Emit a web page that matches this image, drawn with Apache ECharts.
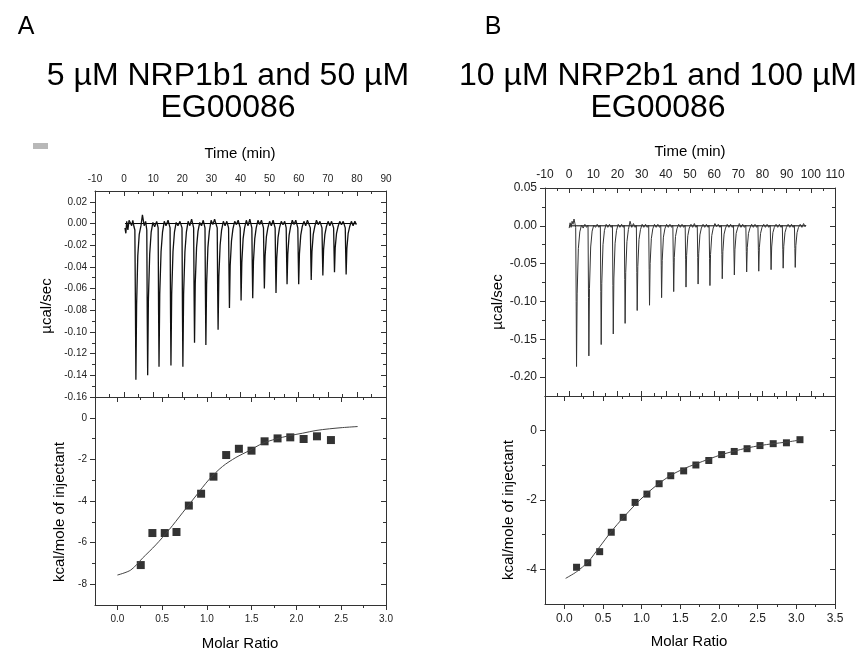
<!DOCTYPE html>
<html>
<head>
<meta charset="utf-8">
<script src="https://cdn.jsdelivr.net/npm/echarts@6/dist/echarts.min.js"></script>
<style>
html,body{margin:0;padding:0;background:#fff;}
#main{width:866px;height:653px;}
</style>
</head>
<body>
<div id="main"></div>
<script>
// ---------- Panel A : raw thermogram (Time min, µcal/sec) ----------
const A_trace = [
[0.3,-0.004],[0.6,-0.009],[0.9,0.002],[1.3,-0.006],[1.7,0.003],[2.1,0.001],[2.6,-0.002],[3.0,0.003],[3.4,-0.003],[3.7,-0.006],
[3.9,-0.080],[4.05,-0.144],[4.3,-0.075],[4.7,-0.030],[5.2,-0.010],[5.8,-0.002],[6.3,0.008],[6.9,-0.002],[7.4,0.002],[7.8,-0.006],
[7.95,-0.085],[8.1,-0.140],[8.35,-0.070],[8.8,-0.028],[9.3,-0.008],[9.9,0.001],[10.5,-0.003],[11.2,0.002],[11.7,-0.004],
[11.85,-0.080],[12.0,-0.132],[12.25,-0.065],[12.7,-0.026],[13.2,-0.008],[13.8,0.002],[14.4,-0.002],[15.1,0.003],[15.8,-0.004],
[15.95,-0.080],[16.1,-0.131],[16.35,-0.065],[16.8,-0.026],[17.3,-0.008],[17.9,0.001],[18.5,-0.002],[19.2,0.002],[19.9,-0.004],
[20.05,-0.080],[20.2,-0.132],[20.45,-0.065],[20.9,-0.026],[21.4,-0.008],[22.0,0.002],[22.6,-0.002],[23.2,0.004],[23.9,-0.004],
[24.05,-0.065],[24.2,-0.110],[24.45,-0.055],[24.9,-0.022],[25.4,-0.007],[26.0,0.001],[26.6,-0.002],[27.2,0.003],[27.8,-0.004],
[27.95,-0.065],[28.1,-0.112],[28.35,-0.056],[28.8,-0.022],[29.3,-0.007],[29.9,0.003],[30.5,-0.001],[31.1,0.004],[32.0,-0.004],
[32.15,-0.060],[32.3,-0.098],[32.55,-0.049],[33.0,-0.020],[33.5,-0.006],[34.1,0.002],[34.7,-0.002],[35.3,0.002],[35.9,-0.004],
[36.05,-0.045],[36.2,-0.078],[36.45,-0.039],[36.9,-0.016],[37.4,-0.005],[38.0,0.002],[38.6,-0.001],[39.2,0.003],[39.9,-0.004],
[40.05,-0.040],[40.2,-0.071],[40.45,-0.036],[40.9,-0.014],[41.4,-0.004],[42.0,0.003],[42.6,-0.002],[43.2,0.004],[43.9,-0.004],
[44.05,-0.040],[44.2,-0.069],[44.45,-0.035],[44.9,-0.014],[45.4,-0.004],[46.0,0.003],[46.6,-0.001],[47.2,0.003],[47.9,-0.004],
[48.05,-0.035],[48.2,-0.060],[48.45,-0.030],[48.9,-0.012],[49.4,-0.004],[50.0,0.002],[50.6,-0.002],[51.2,0.003],[51.9,-0.004],
[52.05,-0.037],[52.2,-0.064],[52.45,-0.032],[52.9,-0.013],[53.4,-0.004],[54.0,0.002],[54.6,-0.001],[55.2,0.002],[55.7,-0.004],
[55.85,-0.032],[56.0,-0.056],[56.25,-0.028],[56.7,-0.011],[57.2,-0.003],[57.8,0.003],[58.4,-0.001],[59.0,0.003],[59.7,-0.004],
[59.85,-0.032],[60.0,-0.056],[60.25,-0.028],[60.7,-0.011],[61.2,-0.003],[61.8,0.002],[62.4,-0.002],[63.0,0.003],[64.0,-0.004],
[64.15,-0.030],[64.3,-0.052],[64.55,-0.026],[65.0,-0.010],[65.5,-0.003],[66.1,0.003],[66.7,-0.001],[67.3,0.002],[68.0,-0.004],
[68.15,-0.028],[68.3,-0.048],[68.55,-0.024],[69.0,-0.010],[69.5,-0.003],[70.1,0.002],[70.7,-0.002],[71.3,0.002],[72.0,-0.004],
[72.15,-0.026],[72.3,-0.045],[72.55,-0.022],[73.0,-0.009],[73.5,-0.003],[74.1,0.002],[74.7,-0.001],[75.3,0.002],[76.0,-0.004],
[76.15,-0.027],[76.3,-0.047],[76.55,-0.023],[77.0,-0.009],[77.5,-0.003],[78.1,0.002],[78.7,-0.002],[79.3,0.002],[79.8,-0.001]
];
const A_baseline = [[0.3,0],[79.8,0]];

// ---------- Panel A : integrated heats ----------
const A_ratio = [0.261,0.391,0.529,0.660,0.798,0.935,1.073,1.215,1.357,1.498,1.644,1.789,1.931,2.080,2.229,2.385];
const A_heat  = [-7.08,-5.54,-5.54,-5.49,-4.22,-3.65,-2.83,-1.79,-1.49,-1.58,-1.13,-0.99,-0.94,-1.02,-0.89,-1.07];
const A_fitX  = [0.0,0.149,0.28,0.429,0.578,0.727,0.876,1.025,1.174,1.323,1.472,1.621,1.770,1.919,2.069,2.218,2.367,2.516,2.684];
const A_fitY  = [-7.56,-7.32,-6.75,-6.11,-5.38,-4.57,-3.76,-2.96,-2.34,-1.91,-1.58,-1.23,-1.02,-0.86,-0.74,-0.61,-0.53,-0.47,-0.42];

// ---------- Panel B : raw thermogram ----------
const B_trace = [
[0.0,-0.003],[0.4,0.004],[0.8,-0.002],[1.2,0.006],[1.6,0.002],[2.0,0.009],[2.4,0.003],[2.7,-0.002],
[2.9,-0.100],[3.05,-0.186],[3.3,-0.090],[3.8,-0.030],[4.4,-0.008],[5.1,0.001],[5.8,-0.003],[6.5,0.002],[7.2,-0.002],[7.8,0.001],
[8.0,-0.095],[8.15,-0.172],[8.4,-0.083],[8.9,-0.028],[9.5,-0.007],[10.2,0.001],[10.9,-0.002],[11.6,0.002],[12.3,-0.002],[12.9,0.001],
[13.1,-0.087],[13.25,-0.157],[13.5,-0.076],[14.0,-0.025],[14.6,-0.006],[15.3,0.002],[16.0,-0.002],[16.7,0.002],[17.4,-0.002],[17.9,0.001],
[18.1,-0.079],[18.25,-0.143],[18.5,-0.069],[19.0,-0.023],[19.6,-0.006],[20.3,0.002],[21.0,-0.002],[21.7,0.002],[22.4,-0.002],[22.8,0.001],
[23.0,-0.071],[23.15,-0.129],[23.4,-0.062],[23.9,-0.021],[24.5,-0.005],[25.2,0.006],[25.9,-0.002],[26.6,0.003],[27.3,-0.002],[27.8,0.001],
[28.0,-0.062],[28.15,-0.112],[28.4,-0.054],[28.9,-0.018],[29.5,-0.005],[30.2,0.002],[30.9,-0.002],[31.6,0.002],[32.3,-0.002],[32.9,0.001],
[33.1,-0.058],[33.25,-0.105],[33.5,-0.050],[34.0,-0.017],[34.6,-0.004],[35.3,0.002],[36.0,-0.002],[36.7,0.002],[37.4,-0.002],[37.9,0.001],
[38.1,-0.052],[38.25,-0.095],[38.5,-0.046],[39.0,-0.015],[39.6,-0.004],[40.3,0.002],[41.0,-0.002],[41.7,0.002],[42.4,-0.002],[42.9,0.001],
[43.1,-0.048],[43.25,-0.087],[43.5,-0.042],[44.0,-0.014],[44.6,-0.004],[45.3,0.002],[46.0,-0.002],[46.7,0.002],[47.4,-0.002],[48.0,0.001],
[48.2,-0.045],[48.35,-0.081],[48.6,-0.039],[49.1,-0.013],[49.7,-0.003],[50.4,0.002],[51.1,-0.002],[51.8,0.003],[52.5,-0.002],[53.0,0.001],
[53.2,-0.042],[53.35,-0.077],[53.6,-0.037],[54.1,-0.012],[54.7,-0.003],[55.4,0.002],[56.1,-0.002],[56.8,0.002],[57.5,-0.002],[57.9,0.001],
[58.1,-0.043],[58.25,-0.079],[58.5,-0.038],[59.0,-0.013],[59.6,-0.003],[60.3,0.003],[61.0,-0.001],[61.7,0.002],[62.4,-0.002],[63.0,0.001],
[63.2,-0.038],[63.35,-0.070],[63.6,-0.034],[64.1,-0.011],[64.7,-0.003],[65.4,0.002],[66.1,-0.002],[66.8,0.002],[67.5,-0.002],[68.0,0.001],
[68.2,-0.036],[68.35,-0.065],[68.6,-0.031],[69.1,-0.010],[69.7,-0.003],[70.4,0.003],[71.1,-0.002],[71.8,0.002],[72.5,-0.002],[73.1,0.001],
[73.3,-0.034],[73.45,-0.061],[73.7,-0.029],[74.2,-0.010],[74.8,-0.003],[75.5,0.002],[76.2,-0.002],[76.9,0.002],[77.6,-0.002],[78.1,0.001],
[78.3,-0.033],[78.45,-0.060],[78.7,-0.029],[79.2,-0.010],[79.8,-0.002],[80.5,0.002],[81.2,-0.002],[81.9,0.002],[82.6,-0.002],[83.2,0.001],
[83.4,-0.032],[83.55,-0.058],[83.8,-0.028],[84.3,-0.009],[84.9,-0.002],[85.6,0.002],[86.3,-0.002],[87.0,0.002],[87.7,-0.002],[88.2,0.001],
[88.4,-0.031],[88.55,-0.056],[88.8,-0.027],[89.3,-0.009],[89.9,-0.002],[90.6,0.002],[91.3,-0.002],[92.0,0.002],[92.7,-0.002],[93.2,0.001],
[93.4,-0.030],[93.55,-0.055],[93.8,-0.026],[94.3,-0.009],[94.9,-0.002],[95.6,0.002],[96.3,-0.002],[97.0,0.003],[97.6,-0.001],[98.0,0.001]
];
const B_baseline = [[0.0,0],[98.0,0]];

// ---------- Panel B : integrated heats ----------
const B_ratio = [0.158,0.303,0.457,0.607,0.761,0.915,1.068,1.226,1.376,1.543,1.701,1.868,2.034,2.197,2.363,2.530,2.701,2.872,3.047];
const B_heat  = [-3.94,-3.81,-3.49,-2.93,-2.50,-2.07,-1.83,-1.53,-1.30,-1.16,-0.99,-0.86,-0.69,-0.60,-0.52,-0.43,-0.375,-0.35,-0.26];
const B_fitX  = [0.017,0.158,0.308,0.457,0.607,0.761,0.915,1.068,1.226,1.376,1.543,1.701,1.868,2.034,2.197,2.363,2.530,2.701,2.872,3.047];
const B_fitY  = [-4.26,-4.07,-3.78,-3.35,-2.91,-2.51,-2.14,-1.81,-1.52,-1.29,-1.10,-0.96,-0.82,-0.69,-0.59,-0.50,-0.43,-0.375,-0.33,-0.27];

// ---------- tick labels ----------
const A_timeTicks  = [-10,0,10,20,30,40,50,60,70,80,90];
const A_timeMinor  = [-5,5,15,25,35,45,55,65,75,85];
const A_powerTicks = [-0.16,-0.14,-0.12,-0.10,-0.08,-0.06,-0.04,-0.02,0.00,0.02];
const A_powerMinor = [-0.15,-0.13,-0.11,-0.09,-0.07,-0.05,-0.03,-0.01,0.01];
const A_ratioTicks = [0,0.5,1.0,1.5,2.0,2.5,3.0];
const A_ratioMinor = [0.25,0.75,1.25,1.75,2.25,2.75];
const A_heatTicks  = [-8,-6,-4,-2,0];
const A_heatMinor  = [-7,-5,-3,-1];

const B_timeTicks  = [-10,0,10,20,30,40,50,60,70,80,90,100,110];
const B_timeMinor  = [-5,5,15,25,35,45,55,65,75,85,95,105];
const B_powerTicks = [-0.20,-0.15,-0.10,-0.05,0.00,0.05];
const B_powerMinor = [-0.175,-0.125,-0.075,-0.025,0.025];
const B_ratioTicks = [0,0.5,1.0,1.5,2.0,2.5,3.0,3.5];
const B_ratioMinor = [0.25,0.75,1.25,1.75,2.25,2.75,3.25];
const B_heatTicks  = [-4,-2,0];
const B_heatMinor  = [-3,-1];

const FONT = '"Liberation Sans", Arial, sans-serif';
const INK = '#222';

const panels = [
  {rect:{left:95,top:191,width:291,height:206}, xr:[-10,90], yr:[-0.16,0.03], xt:A_timeTicks, xm:A_timeMinor, yt:A_powerTicks, ym:A_powerMinor, labX:'top', xf:v=>String(Math.round(v)), yf:v=>v.toFixed(2), fs:10},
  {rect:{left:95,top:397,width:291,height:208}, xr:[-0.25,3.0], yr:[-9,1], xt:A_ratioTicks, xm:A_ratioMinor, yt:A_heatTicks, ym:A_heatMinor, labX:'bottom', xf:v=>v.toFixed(1), yf:v=>String(Math.round(v)), fs:10},
  {rect:{left:545,top:188,width:290,height:208}, xr:[-10,110], yr:[-0.225,0.05], xt:B_timeTicks, xm:B_timeMinor, yt:B_powerTicks, ym:B_powerMinor, labX:'top', xf:v=>String(Math.round(v)), yf:v=>v.toFixed(2), fs:12},
  {rect:{left:545,top:396,width:290,height:208}, xr:[-0.25,3.5], yr:[-5,1], xt:B_ratioTicks, xm:B_ratioMinor, yt:B_heatTicks, ym:B_heatMinor, labX:'bottom', xf:v=>v.toFixed(1), yf:v=>String(Math.round(v)), fs:12}
];

const grids = [], xAxes = [], yAxes = [];
function mkAxis(gi, pos, range, ticks, showLabel, fmt, inside, len, showLine, fs, margin) {
  return {
    type:'value', gridIndex:gi, position:pos, min:range[0], max:range[1],
    axisLine:{show:showLine, onZero:false, lineStyle:{color:'#333', width:1}},
    axisTick:{show:true, inside:inside, length:len, customValues:ticks, lineStyle:{color:'#333', width:1}},
    axisLabel:{show:showLabel, customValues:ticks, formatter:fmt, fontSize:fs, color:INK, fontFamily:FONT, margin:margin},
    splitLine:{show:false}, minorTick:{show:false}
  };
}
// main grids (with labels and frame), then overlay grids for minor ticks
panels.forEach((p, i) => {
  grids.push(Object.assign({}, p.rect));
  const labTop = p.labX === 'top';
  xAxes.push(mkAxis(i, p.labX, p.xr, p.xt, true, p.xf, labTop, 5, true, p.fs, labTop ? 7 : 9));
  xAxes.push(mkAxis(i, labTop ? 'bottom' : 'top', p.xr, p.xt, false, p.xf, true, 5, true, p.fs, 8));
  yAxes.push(mkAxis(i, 'left', p.yr, p.yt, true, p.yf, false, 5, true, p.fs, 8));
  yAxes.push(mkAxis(i, 'right', p.yr, p.yt, false, p.yf, true, 5, true, p.fs, 8));
});
panels.forEach((p, i) => {
  const gi = grids.length;
  grids.push(Object.assign({}, p.rect));
  const labTop = p.labX === 'top';
  xAxes.push(mkAxis(gi, p.labX, p.xr, p.xm, false, p.xf, labTop, 3, false, p.fs, 8));
  xAxes.push(mkAxis(gi, labTop ? 'bottom' : 'top', p.xr, p.xm, false, p.xf, true, 3, false, p.fs, 8));
  yAxes.push(mkAxis(gi, 'left', p.yr, p.ym, false, p.yf, false, 3, false, p.fs, 8));
  yAxes.push(mkAxis(gi, 'right', p.yr, p.ym, false, p.yf, true, 3, false, p.fs, 8));
});

const zip = (xs, ys) => xs.map((x, k) => [x, ys[k]]);
const series = [
  {type:'line', xAxisIndex:0, yAxisIndex:0, data:A_baseline, showSymbol:false, lineStyle:{color:'#000', width:1}, silent:true},
  {type:'line', xAxisIndex:0, yAxisIndex:0, data:A_trace, showSymbol:false, lineStyle:{color:'#111', width:1.3}, silent:true},
  {type:'line', xAxisIndex:2, yAxisIndex:2, data:zip(A_fitX, A_fitY), showSymbol:false, smooth:0.3, lineStyle:{color:'#444', width:1}, silent:true},
  {type:'scatter', xAxisIndex:2, yAxisIndex:2, data:zip(A_ratio, A_heat), symbol:'rect', symbolSize:8, itemStyle:{color:'#000'}, silent:true},
  {type:'line', xAxisIndex:4, yAxisIndex:4, data:B_baseline, showSymbol:false, lineStyle:{color:'#000', width:1}, silent:true},
  {type:'line', xAxisIndex:4, yAxisIndex:4, data:B_trace, showSymbol:false, lineStyle:{color:'#333', width:1}, silent:true},
  {type:'line', xAxisIndex:6, yAxisIndex:6, data:zip(B_fitX, B_fitY), showSymbol:false, smooth:0.3, lineStyle:{color:'#444', width:1}, silent:true},
  {type:'scatter', xAxisIndex:6, yAxisIndex:6, data:zip(B_ratio, B_heat), symbol:'rect', symbolSize:7, itemStyle:{color:'#000'}, silent:true}
];

function txt(text, x, y, size, rot) {
  return {type:'text', x:x, y:y, rotation:rot || 0, silent:true,
    style:{text:text, fontSize:size, fontFamily:FONT, fill:'#000', align:'center', verticalAlign:'middle'}};
}
const graphic = [
  txt('A', 26, 27, 25),
  txt('B', 493, 27, 25),
  txt('5 µM NRP1b1 and 50 µM', 228, 76, 32),
  txt('EG00086', 228, 108, 32),
  txt('10 µM NRP2b1 and 100 µM', 658, 76, 32),
  txt('EG00086', 658, 108, 32),
  txt('Time (min)', 240, 154, 15),
  txt('Time (min)', 690, 152, 15),
  txt('µcal/sec', 47, 306, 15, Math.PI/2),
  txt('µcal/sec', 498, 302, 15, Math.PI/2),
  txt('kcal/mole of injectant', 60, 512, 15, Math.PI/2),
  txt('kcal/mole of injectant', 509, 510, 15, Math.PI/2),
  txt('Molar Ratio', 240, 644, 15),
  txt('Molar Ratio', 689, 642, 15),
  {type:'rect', shape:{x:33, y:143, width:15, height:6}, style:{fill:'#b8b8b8'}, silent:true}
];

const chart = echarts.init(document.getElementById('main'), null, {renderer:'canvas'});
chart.setOption({
  animation:false,
  backgroundColor:'#fff',
  grid:grids, xAxis:xAxes, yAxis:yAxes, series:series, graphic:graphic
});
</script>
</body>
</html>
